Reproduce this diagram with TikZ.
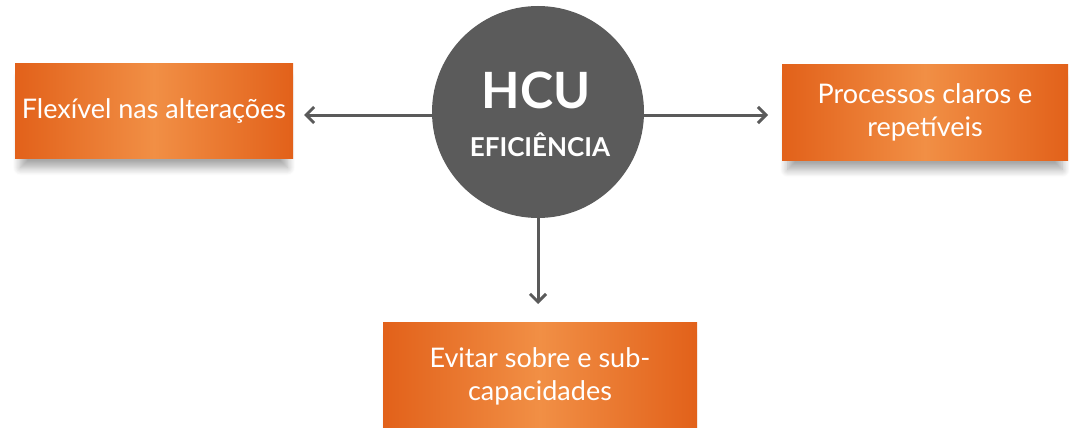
\documentclass[tikz,border=0pt]{standalone}
\usepackage{fontspec}
\setmainfont{Lato}
\usetikzlibrary{arrows.meta,shadows.blur}
\definecolor{orDark}{HTML}{E2611A}
\definecolor{orLight}{HTML}{F18F45}
\definecolor{circGray}{HTML}{5B5B5B}
\definecolor{arrGray}{HTML}{5A5A5A}
\tikzset{
  obox/.style={rectangle, inner sep=0pt, left color=orDark, right color=orDark, middle color=orLight,
    text=white, font=\fontsize{27}{33}\selectfont, align=center,
    blur shadow={shadow xshift=0pt, shadow yshift=-12pt, shadow scale=0.96, shadow blur steps=10, shadow blur radius=8pt, shadow opacity=35}},
  conn/.style={draw=arrGray, line width=3pt, -{Straight Barb[length=8pt,width=16pt,line width=3pt]}},
}
\begin{document}
\begin{tikzpicture}[x=1pt,y=-1pt]
\useasboundingbox (0,0) rectangle (1071,428);
\node[obox, minimum width=278pt, minimum height=94pt] (left) at (154,111) {Flexível nas alterações};
\node[obox, minimum width=286pt, minimum height=95pt] (right) at (925,112.5) {Processos claros e\\repetíveis};
\node[obox, minimum width=314pt, minimum height=108pt] (bottom) at (540,376) {Evitar sobre e sub-\\capacidades};
\node[circle, fill=circGray, minimum size=212pt, inner sep=0pt] (hcu) at (538,112) {};
\node[text=white, font=\fontsize{50}{50}\selectfont\bfseries] (t1) at (536,90) {HCU};
\node[text=white, font=\fontsize{26}{26}\selectfont\bfseries] (t2) at (540,145) {EFICIÊNCIA};
\coordinate (lt) at (304,115);
\coordinate (rt) at (768,115);
\coordinate (bt) at (538,304);
\draw[conn] (hcu.west |- lt) -- (lt);
\draw[conn] (hcu.east |- rt) -- (rt);
\draw[conn] (hcu.south) -- (bt);
\end{tikzpicture}
\end{document}
